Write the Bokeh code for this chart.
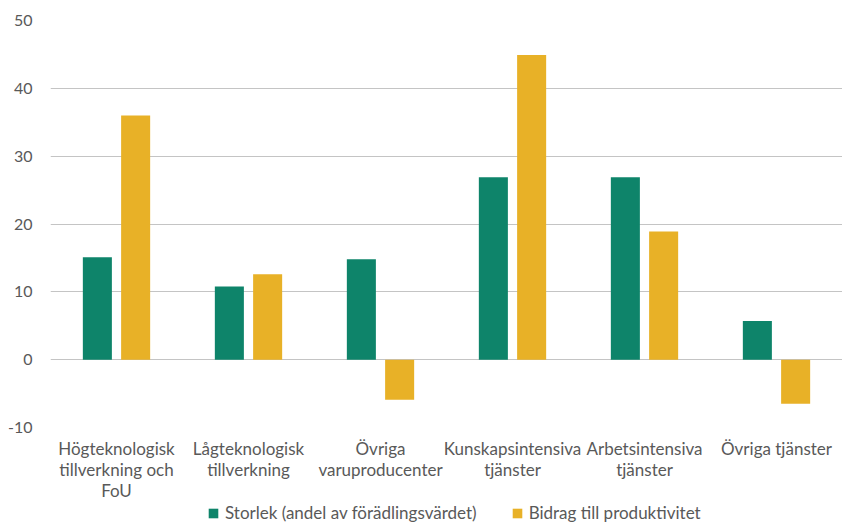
from bokeh.plotting import figure
from bokeh.models import ColumnDataSource, FactorRange, Legend, LegendItem, FixedTicker, Range1d
from bokeh.layouts import column
from bokeh.transform import dodge
from bokeh.embed import file_html
from bokeh.resources import INLINE

categories = ["Högteknologisk\ntillverkning och\nFoU", "Lågteknologisk\ntillverkning", "Övriga\nvaruproducenter",
              "Kunskapsintensiva\ntjänster", "Arbetsintensiva\ntjänster", "Övriga tjänster"]
storlek = [15.1, 10.8, 14.8, 26.9, 26.9, 5.7]
bidrag = [36.0, 12.6, -5.9, 44.9, 18.9, -6.5]
series_names = ["Storlek (andel av förädlingsvärdet)", "Bidrag till produktivitet"]
y_ticks = [-10, 0, 10, 20, 30, 40, 50]

GREEN = "#0E846A"
YELLOW = "#E8B127"
TXT = "#595959"
FONT = "Lato"

src = ColumnDataSource(dict(cat=categories, storlek=storlek, bidrag=bidrag))

p = figure(x_range=FactorRange(*categories, range_padding=0), y_range=(-10, 50),
           width=842, height=503, output_backend="svg", toolbar_location=None,
           min_border_left=50, min_border_right=0, min_border_top=20, min_border_bottom=76)
p.outline_line_color = None

p.vbar(x=dodge("cat", -0.145, range=p.x_range), top="storlek", width=0.22, source=src,
       fill_color=GREEN, line_color=None)
p.vbar(x=dodge("cat", 0.145, range=p.x_range), top="bidrag", width=0.22, source=src,
       fill_color=YELLOW, line_color=None)

p.xgrid.grid_line_color = None
p.ygrid.grid_line_color = "#c4c4c4"
p.ygrid.grid_line_width = 1
p.yaxis.ticker = FixedTicker(ticks=y_ticks)
p.yaxis.major_label_overrides = {-10: "-10"}

for ax in (p.xaxis[0], p.yaxis[0]):
    ax.axis_line_color = None
    ax.major_tick_line_color = None
    ax.minor_tick_line_color = None
    ax.major_tick_out = 0
    ax.major_tick_in = 0
    ax.major_label_text_color = TXT
    ax.major_label_text_font = FONT

p.yaxis.major_label_text_font_size = "16px"
p.xaxis.major_label_text_font_size = "17px"
p.yaxis.major_label_standoff = 18
p.xaxis.major_label_standoff = 10
p.xaxis.major_label_text_line_height = 1.0

# legend strip below the chart
lg = figure(width=842, height=23, output_backend="svg", toolbar_location=None,
            x_range=Range1d(0, 1), y_range=Range1d(0, 1),
            min_border_left=0, min_border_right=0, min_border_top=0, min_border_bottom=0)
lg.axis.visible = False
lg.grid.visible = False
lg.outline_line_color = None
offscreen = ColumnDataSource(dict(x=[-5.0], top=[-5.0]))
g1 = lg.vbar(x="x", top="top", width=0.1, source=offscreen, fill_color=GREEN, line_color=None)
g2 = lg.vbar(x="x", top="top", width=0.1, source=offscreen, fill_color=YELLOW, line_color=None)
legend = Legend(items=[LegendItem(label=series_names[0], renderers=[g1]),
                       LegendItem(label=series_names[1], renderers=[g2])],
                orientation="horizontal", location=(157, 3),
                glyph_width=12, glyph_height=12, label_standoff=6, spacing=34,
                padding=0, margin=0, border_line_color=None, background_fill_alpha=0,
                label_text_font=FONT, label_text_font_size="17px", label_text_color=TXT,
                label_height=17)
lg.add_layout(legend, "center")

layout = column(p, lg, spacing=0)
open("out.html", "w").write(file_html(layout, INLINE))
